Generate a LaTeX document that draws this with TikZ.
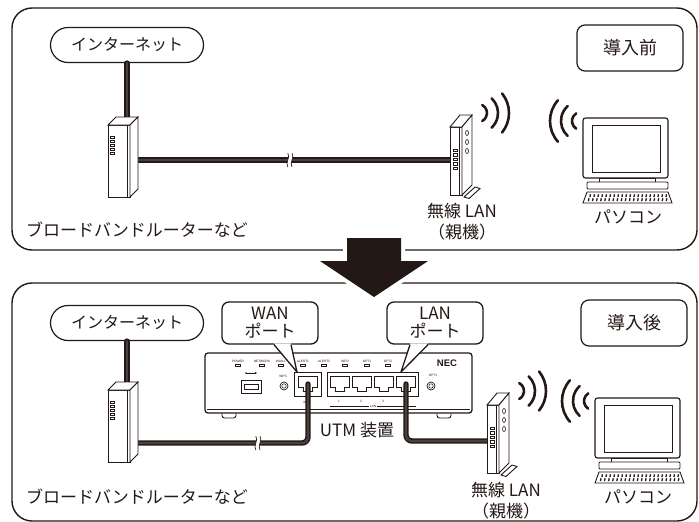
\documentclass[tikz,border=0pt]{standalone}
\usepackage{fontspec}
\setmainfont{Noto Sans CJK JP}
\newfontfamily\panelfont{Liberation Sans}
\usetikzlibrary{calc, positioning}
\definecolor{ink}{HTML}{231815}
\definecolor{cablecore}{HTML}{4A403D}

\tikzset{
  pics/bbrouter/.style={code={
    \path[face] (-15,-32) rectangle (7,40);
    \path[face] (-15,-32) -- (-7,-40) -- (15,-40) -- (7,-32) -- cycle;
    \path[face] (7,-32) -- (15,-40) -- (15,32) -- (7,40) -- cycle;
    \draw[line width=0.4] (4,-32) -- (4,40);
    \foreach \k in {0,...,4} \draw[line width=0.5] (-13,-21+4*\k) rectangle ++(4,2.2);
  }},
  pics/wlanap/.style={code={
    \path[face] (3,42) -- (14,32) -- (19,33.5) -- (8,43.5) -- cycle;
    \path[face] (-11,-28) rectangle (1,40);
    \path[face] (-11,-28) -- (-1,-40) -- (11,-40) -- (1,-28) -- cycle;
    \path[face] (1,-28) -- (11,-40) -- (11,30) -- (1,40) -- cycle;
    \draw[line width=0.4] (-2,-28) -- (-2,40);
    \foreach \k in {0,1,2} \draw[line width=0.6] (6,-22+9*\k) ellipse (1.5 and 2.5);
    \foreach \k in {0,...,4} \draw[line width=0.5] (-8,-6+4.5*\k) rectangle ++(4,2.3);
  }},
  pics/laptop/.style={code={
    \path[face, line width=1.1, rounded corners=2.5] (0,0) rectangle (85,60);
    \draw[line width=0.6] (9,7) rectangle (77,54);
    \path[face] (16,60) rectangle (72,64);
    \path[face, rounded corners=1] (4,64) rectangle (85,71);
    \path[face] (4,74) -- (85,74) -- (89,85) -- (0,85) -- cycle;
    \foreach \k in {0,...,19} {
      \draw[line width=1.3] (7.5+4*\k,76.3) -- ++(-0.6,2.8);
      \draw[line width=1.3] (6+4.1*\k,80.3) -- ++(-0.6,2.8);
    }
  }},
  pics/wavesright/.style={code={
    \foreach \r/\a in {9/62,20/47,31/39}
      \draw[line width=2.6, line cap=round] (-\a:\r) arc (-\a:\a:\r);
  }},
  pics/wavesleft/.style={code={
    \foreach \r/\a in {9/58,20/48,31/42}
      \draw[line width=2.6, line cap=round] (180-\a:\r) arc (180-\a:180+\a:\r);
  }},
  pics/jack/.style={code={
    \draw[line width=0.6] (0,0) -- (19,0) -- (19,11) -- (14,11) -- (14,15) -- (5,15) -- (5,11) -- (0,11) -- cycle;
  }},
  pics/cablecut/.style={code={
    \fill[white] (-2.2,-7) .. controls (0.8,-2.5) and (-5.2,2.5) .. (-2.2,7) -- (2,7) .. controls (-1,2.5) and (5,-2.5) .. (2,-7) -- cycle;
    \draw[line width=0.7] (-2.2,-7) .. controls (0.8,-2.5) and (-5.2,2.5) .. (-2.2,7);
    \draw[line width=0.7] (2,-7) .. controls (5,-2.5) and (-1,2.5) .. (2,7);
  }}
}

\begin{document}
\begin{tikzpicture}[x=1pt, y=-1pt, ink, text=ink,
  face/.style={fill=white, draw=ink, line width=0.9},
  panel/.style={draw=ink, line width=1.4, rounded corners=20},
  pill/.style={draw=ink, fill=white, line width=1.2, rounded corners=17.5, minimum width=153, minimum height=35, inner sep=0, font=\fontsize{16}{18}\selectfont},
  tagbox/.style={draw=ink, fill=white, line width=1.2, rounded corners=8, minimum width=106, minimum height=46, inner sep=0, font=\fontsize{18}{20}\selectfont},
  bubtext/.style={draw=ink, fill=white, line width=1.3, rounded corners=7, minimum width=96, minimum height=42, inner sep=0, align=center, font=\fontsize{17}{18}\selectfont},
  devlabel/.style={inner sep=0, align=center, font=\fontsize{17}{21}\selectfont},
  devspot/.style={inner sep=0, outer sep=0},
  cable/.style={draw=ink, line width=1.5, double=cablecore, double distance=2.4, line cap=round},
  tiny/.style={inner sep=0, font=\panelfont\fontsize{3.2}{3.2}\selectfont}]
\useasboundingbox (0,0) rectangle (699,522);

% the two panels and the arrow between them
\draw[panel] (12,8) rectangle (697,250);
\draw[panel] (12,283) rectangle (697,521);
\fill[ink, preaction={draw=white, line width=8}] (347,238) -- (401,238) -- (401,261) -- (428,261) -- (374,297) -- (320,261) -- (347,261) -- cycle;

% ---- before ----
\node[pill] (net1) at (127,45) {インターネット};
\node[tagbox] (before) at (630,48) {導入前};
\node[devspot, minimum width=30, minimum height=80] (rt1) at (123,157) {};
\node[devspot, minimum width=22, minimum height=82] (ap1) at (461,155) {};
\node[devspot, minimum width=89, minimum height=85] (pc1) at (627.5,160.5) {};
\coordinate (cut1) at (290,160);

\draw[cable] (net1.south) -- (net1.south |- rt1.center);
\draw[cable] ($(rt1.center)+(0,3)$) -- ($(ap1.center)+(0,5)$);
\pic at (cut1) {cablecut};
\pic at (rt1.center) {bbrouter};
\pic at (ap1.center) {wlanap};
\pic at ($(ap1.center)+(17,-42)$) {wavesright};
\pic at (pc1.north west) {laptop};
\pic at ($(pc1.north west)+(-2,3)$) {wavesleft};

\node[devlabel] (rtname1) at (137,230) {ブロードバンドルーターなど};
\node[devlabel] (apname1) at (462,222) {無線 LAN\\（親機）};
\node[devlabel] (pcname1) at (628,217) {パソコン};

% ---- after ----
\node[pill] (net2) at (127,323) {インターネット};
\node[tagbox] (after) at (634,323) {導入後};
\node[devspot, minimum width=30, minimum height=80] (rt2) at (123,422) {};
\node[devspot, minimum width=22, minimum height=82] (ap2) at (498,433) {};
\node[devspot, minimum width=89, minimum height=85] (pc2) at (639.5,440.5) {};
\node[devspot, minimum width=267, minimum height=60] (utm) at (338.5,383) {};
\coordinate (wanjack) at (308,384);
\coordinate (lanjack) at (406,384);
\coordinate (cut2) at (258,443);

% UTM front panel
\path[face, rounded corners=2.5] (222,411) -- (222,418) -- (236,418) -- (236,411);
\path[face, rounded corners=2.5] (437,411) -- (437,418) -- (451,418) -- (451,411);
\path[face, line width=1.3, rounded corners=3] (utm.north west) rectangle (utm.south east);
\draw[line width=0.5] (207,409) -- (470,409);
\foreach \x/\lbl in {238/POWER, 262/NETWORK, 281/WAN.L, 303/ALERT1, 324/ALERT2, 345/INFO, 367/OPT1, 388/OPT2} {
  \node[tiny] at (\x,361) {\lbl};
  \draw[line width=0.4] (\x-2.5,364.5) rectangle ++(5,2);
}
\draw[line width=0.5] (246,373) -- (256,373);
\fill (246,373) circle (0.9);
\fill (257,373) -- (255,371.8) -- (255,374.2) -- cycle;
\path[face] (241,380) rectangle (261,393);
\draw[line width=0.5] (244,384) rectangle (258,389);
\node[tiny] at (283,376) {WPS};
\draw[line width=0.7] (284,386) circle (4);
\draw[line width=0.5] (284,386) circle (2.2);
\draw[line width=0.8] (294,372) rectangle (321,396);
\pic at (298,376) {jack};
\node[tiny] at (307,402) {WAN};
\draw[line width=0.8] (327,372) rectangle (418,396);
\foreach \x in {330,352,374,396} \pic at (\x,376) {jack};
\foreach \x/\n in {339/1,361/2,383/3} \node[tiny] at (\x,401) {\n};
\draw[line width=0.4] (330,406) -- (416,406);
\node[tiny, fill=white, inner xsep=1] at (373,406) {LAN};
\node[tiny] at (433,375) {OPT1};
\draw[line width=0.7] (431,386) circle (4);
\draw[line width=0.5] (431,386) circle (2.2);
\node[inner sep=0, font=\panelfont\bfseries\fontsize{9.5}{9.5}\selectfont] (logo) at (447,363) {NEC};

% port callouts
\node[bubtext] (wantag) at (270,323) {WAN\\ポート};
\coordinate (wantip) at (297,372);
\fill[white] ($(wantag.south)+(4,-1.2)$) -- (wantip) -- ($(wantag.south)+(21,-1.2)$) -- cycle;
\draw[line width=1.3, line join=round] ($(wantag.south)+(4,0)$) -- (wantip) -- ($(wantag.south)+(21,0)$);
\node[bubtext] (lantag) at (435,323) {LAN\\ポート};
\coordinate (lantip) at (401,372);
\fill[white] ($(lantag.south)+(-25,-1.2)$) -- (lantip) -- ($(lantag.south)+(-7,-1.2)$) -- cycle;
\draw[line width=1.3, line join=round] ($(lantag.south)+(-25,0)$) -- (lantip) -- ($(lantag.south)+(-7,0)$);

\draw[cable] (net2.south) -- (net2.south |- rt2.center);
\draw[cable, rounded corners=6] ($(rt2.center)+(0,21)$) -| (wanjack);
\draw[cable, rounded corners=6] (lanjack) |- ($(ap2.center)+(0,8)$);
\pic at (cut2) {cablecut};
\pic at (rt2.center) {bbrouter};
\pic at (ap2.center) {wlanap};
\pic at ($(ap2.center)+(17,-42)$) {wavesright};
\pic at (pc2.north west) {laptop};
\pic at ($(pc2.north west)+(-2,3)$) {wavesleft};

\node[devlabel] (rtname2) at (137,497) {ブロードバンドルーターなど};
\node[devlabel] (utmname) at (357,430) {UTM 装置};
\node[devlabel] (apname2) at (506,501) {無線 LAN\\（親機）};
\node[devlabel] (pcname2) at (638,497) {パソコン};
\end{tikzpicture}
\end{document}
